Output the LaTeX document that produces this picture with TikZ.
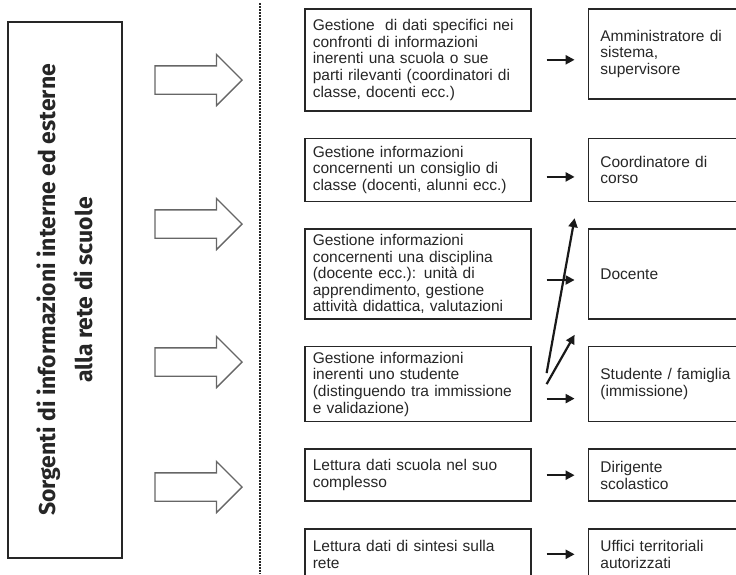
\documentclass[tikz,border=0pt]{standalone}
\usepackage{fontspec}
\setmainfont{Liberation Sans}
\newfontfamily\srcfont{Fira Sans}
\usetikzlibrary{
  positioning,
  arrows.meta,
  shapes.arrows
}

\begin{document}
\begin{tikzpicture}[
  x=1pt, y=-1pt,
  node distance=26pt,
  mbox/.style={draw=black!85, line width=1.6pt, text width=210pt,
               inner xsep=8pt, inner ysep=2pt, align=left, text=black!85,
               font={\fontsize{15.5}{16.6}\selectfont}},
  rbox/.style={mbox, text width=140pt, inner xsep=12pt},
  srcbox/.style={draw=black!85, line width=1.6pt, minimum width=536pt,
                 minimum height=114pt, align=center, text=black!85,
                 font={\srcfont\bfseries\fontsize{23}{37}\selectfont}},
  bigarrow/.style={single arrow, draw=black!60, line width=1.3pt,
                   minimum height=87pt, minimum width=50pt,
                   single arrow head extend=11.5pt,
                   inner xsep=0pt, inner ysep=13.5pt},
  arr/.style={-{Triangle[length=9pt, width=9pt]}, line width=2.2pt, black!90},
  flow/.style={arr, shorten <=15pt, shorten >=13pt}
]
  \useasboundingbox (0,0) rectangle (736,574);
  \clip (0,0) rectangle (736,574);

  % sorgenti
  \node[srcbox, rotate=90] (SRC) at (65,290)
    {Sorgenti di informazioni interne ed esterne\\alla rete di scuole};
  \foreach \y [count=\i] in {80,224,362,487}
    \node[bigarrow] (BA\i) at (191.5,\y) {};
  \draw[line width=2.6pt, dash pattern=on 1.7pt off 1.3pt, black!85]
    (260,3) -- (260,574);

  % gestione / lettura
  \node[mbox, minimum height=102pt, anchor=north west] (M1) at (304,8)
    {Gestione~ di dati specifici nei\\confronti di informazioni\\inerenti una scuola o sue\\parti rilevanti (coordinatori di\\classe, docenti ecc.)};
  \node[mbox, minimum height=63pt, below=of M1] (M2)
    {Gestione informazioni\\concernenti un consiglio di\\classe (docenti, alunni ecc.)};
  \node[mbox, minimum height=90pt, below=of M2] (M3)
    {Gestione informazioni\\concernenti una disciplina\\(docente ecc.): unità di\\apprendimento, gestione\\attività didattica, valutazioni};
  \node[mbox, minimum height=75pt, below=of M3] (M4)
    {Gestione informazioni\\inerenti uno studente\\(distinguendo tra immissione\\e validazione)};
  \node[mbox, minimum height=52pt, below=of M4] (M5)
    {Lettura dati scuola nel suo\\complesso};
  \node[mbox, minimum height=51pt, below=of M5] (M6)
    {Lettura dati di sintesi sulla\\rete};

  % utenti
  \node[rbox, minimum height=90pt, right=56pt of M1.north east, anchor=north west] (R1)
    {Amministratore di\\sistema,\\supervisore};
  \node[rbox, minimum height=63pt, right=56pt of M2] (R2) {Coordinatore di\\corso};
  \node[rbox, minimum height=90pt, right=56pt of M3] (R3) {Docente};
  \node[rbox, minimum height=75pt, right=56pt of M4] (R4) {Studente / famiglia\\(immissione)};
  \node[rbox, minimum height=52pt, right=56pt of M5] (R5) {Dirigente\\scolastico};
  \node[rbox, minimum height=51pt, right=56pt of M6] (R6) {Uffici territoriali\\autorizzati};

  \draw[flow] (M1.east) -- (M1.east -| R1.west);
  \draw[flow] ([yshift=-7pt]M2.east) -- ([yshift=-7pt]R2.west);
  \draw[flow] ([yshift=-6pt]M3.east) -- ([yshift=-6pt]R3.west);
  \draw[flow] ([yshift=-14.5pt]M4.east) -- ([yshift=-14.5pt]R4.west);
  \draw[flow] (M5) -- (R5);
  \draw[flow] (M6) -- (R6);

  % studente verso coordinatore e docente
  \coordinate (toCoord) at ([shift={(-13pt,10pt)}]R3.north west);
  \coordinate (toDoc) at ([shift={(-13pt,11pt)}]R4.north west);
  \draw[arr] ([shift={(15pt,11pt)}]M4.east) -- (toCoord);
  \draw[arr] ([shift={(15pt,0pt)}]M4.east) -- (toDoc);
\end{tikzpicture}
\end{document}
